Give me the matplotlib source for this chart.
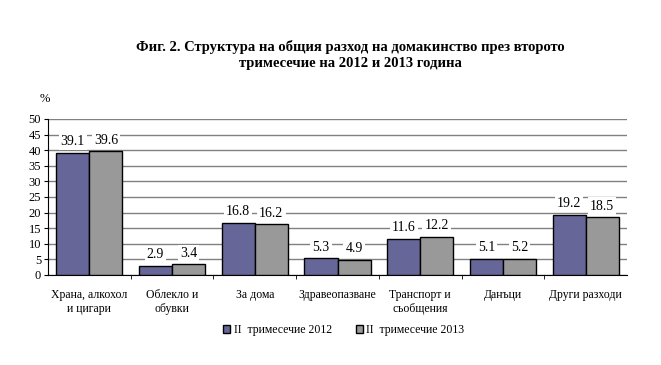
import numpy as np
import matplotlib
matplotlib.use("Agg")
import matplotlib.pyplot as plt

plt.rcParams['font.family'] = ['Liberation Serif', 'DejaVu Serif']

categories = ['Храна, алкохол\nи цигари', 'Облекло и\nобувки', 'За дома',
              'Здравеопазване', 'Транспорт и\nсъобщения', 'Данъци', 'Други разходи']
q2_2012 = [39.1, 2.9, 16.8, 5.3, 11.6, 5.1, 19.2]
q2_2013 = [39.6, 3.4, 16.2, 4.9, 12.2, 5.2, 18.5]
series_names = ['II  тримесечие 2012', 'II  тримесечие 2013']

fig = plt.figure(figsize=(6.61, 3.65), dpi=100)
ax = fig.add_axes([0.0726, 0.2466, 0.876, 0.4274])

x = np.arange(len(categories))
w = 0.4
b1 = ax.bar(x - w / 2, q2_2012, w, color='#666699', edgecolor='black', linewidth=1, label=series_names[0], zorder=3)
b2 = ax.bar(x + w / 2, q2_2013, w, color='#999999', edgecolor='black', linewidth=1, label=series_names[1], zorder=3)

# value labels sit on a white box over the grid lines
for bars in (b1, b2):
    for r in bars:
        ax.text(r.get_x() + r.get_width() / 2, r.get_height() + 3.6, f'{r.get_height():.1f}',
                ha='center', va='center', fontsize=10,
                bbox=dict(facecolor='white', edgecolor='none', pad=1.5), zorder=4)

ax.set_xlim(-0.5, len(categories) - 0.5)
ax.set_ylim(0, 50)
ax.set_yticks(range(0, 51, 5))
ax.yaxis.grid(True, color='#808080', linewidth=1, zorder=0)
ax.set_xticks(x)
ax.set_xticklabels(categories, fontsize=8.5)
ax.tick_params(axis='x', length=0, pad=10)
ax.set_xticks(np.arange(0.5, len(categories) - 1, 1), minor=True)
ax.tick_params(axis='x', which='minor', length=3, direction='out')
ax.tick_params(axis='y', labelsize=9, length=3, pad=2)
for s in ('top', 'right'):
    ax.spines[s].set_visible(False)

fig.text(0.068, 0.72, '%', fontsize=9, ha='center')
fig.text(0.53, 0.85, 'Фиг. 2. Структура на общия разход на домакинство през второто\nтримесечие на 2012 и 2013 година',
         ha='center', va='center', fontsize=10.5, fontweight='bold', linespacing=1.35)

fig.legend(handles=[b1, b2], labels=series_names, loc='center', bbox_to_anchor=(0.52, 0.095),
           ncol=2, frameon=False, fontsize=8.5, handlelength=0.6, handleheight=0.6,
           handletextpad=0.3, columnspacing=2.0)

fig.savefig('out.png', dpi=100)
